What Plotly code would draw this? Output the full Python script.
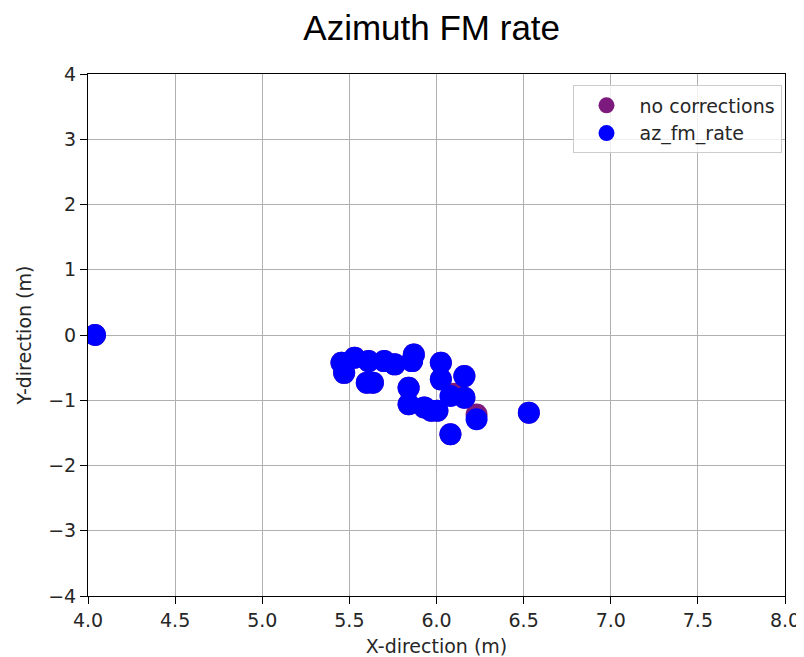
import plotly.graph_objects as go

# no corrections (mostly hidden beneath the corrected points)
nc_x = [4.04, 5.455, 5.47, 5.53, 5.61, 5.60, 5.635, 5.70, 5.76, 5.87, 5.86, 5.84, 5.84, 5.93, 5.97, 6.005, 6.025, 6.025, 6.16, 6.10, 6.16, 6.23, 6.08, 6.53]
nc_y = [0.0, -0.425, -0.58, -0.35, -0.40, -0.73, -0.73, -0.40, -0.45, -0.30, -0.40, -0.81, -1.06, -1.11, -1.16, -1.16, -0.425, -0.68, -0.63, -0.90, -0.96, -1.22, -1.52, -1.19]

# az_fm_rate corrected
az_x = [4.04, 5.455, 5.47, 5.53, 5.61, 5.60, 5.635, 5.70, 5.76, 5.87, 5.86, 5.84, 5.84, 5.93, 5.97, 6.005, 6.025, 6.025, 6.16, 6.08, 6.16, 6.23, 6.08, 6.53]
az_y = [0.0, -0.425, -0.58, -0.35, -0.40, -0.73, -0.73, -0.40, -0.45, -0.30, -0.40, -0.81, -1.06, -1.11, -1.16, -1.16, -0.425, -0.68, -0.63, -0.935, -0.96, -1.29, -1.52, -1.19]

x_ticks = [4.0, 4.5, 5.0, 5.5, 6.0, 6.5, 7.0, 7.5, 8.0]
y_ticks = [-4, -3, -2, -1, 0, 1, 2, 3, 4]

fig = go.Figure()
fig.add_trace(go.Scatter(x=nc_x, y=nc_y, mode="markers", name="no corrections",
                         marker=dict(color="#7d1a7d", size=22, line=dict(width=0))))
fig.add_trace(go.Scatter(x=az_x, y=az_y, mode="markers", name="az_fm_rate",
                         marker=dict(color="#0000ff", size=22, line=dict(width=0))))

axis_common = dict(showline=True, linecolor="black", linewidth=1, mirror=True,
                   ticks="outside", ticklen=7, tickcolor="black", tickwidth=1,
                   showgrid=True, gridcolor="#b0b0b0", gridwidth=1,
                   zeroline=False, tickfont=dict(size=19, color="#262626"))

fig.update_layout(
    width=804, height=657,
    margin=dict(l=80, r=22, t=66, b=68),
    paper_bgcolor="white", plot_bgcolor="white",
    font=dict(family="DejaVu Sans", color="#262626"),
    title=dict(text="Azimuth FM rate", x=0.527, xanchor="center",
               y=0.989, yanchor="top", yref="container",
               font=dict(family="Liberation Sans, Arial", size=35, color="black")),
    xaxis=dict(range=[4.0, 8.0], tickvals=x_ticks, ticktext=[f"{v:.1f}" for v in x_ticks],
               title=dict(text="X-direction (m)", font=dict(size=19), standoff=9), **axis_common),
    yaxis=dict(range=[-4, 4], tickvals=y_ticks,
               ticktext=[("\u2212" + str(-v)) if v < 0 else str(v) for v in y_ticks],
               title=dict(text="Y-direction (m)", font=dict(size=19), standoff=11), **axis_common),
    legend=dict(x=0.995, y=0.978, xanchor="right", yanchor="top",
                bgcolor="rgba(255,255,255,0.8)", bordercolor="#cccccc", borderwidth=1,
                font=dict(size=19, color="#262626"), itemsizing="trace", itemwidth=56),
    showlegend=True,
)

fig.write_html("out.html")
